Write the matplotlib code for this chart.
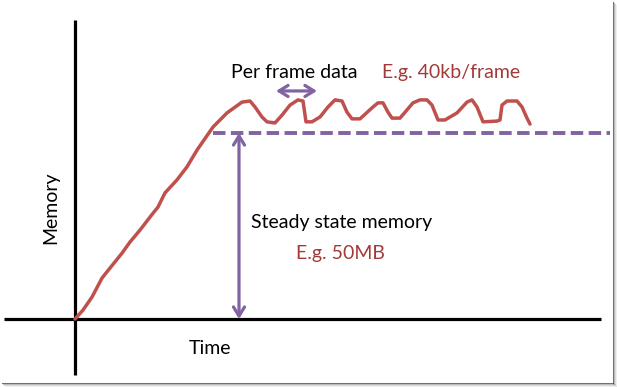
import matplotlib
matplotlib.use('Agg')
from matplotlib import pyplot as plt
from matplotlib.lines import Line2D

# Memory growth over time (time in arbitrary units, memory in MB)
time = [0, 0.8, 1.7, 2.7, 3.5, 4.7, 5.5, 6.5, 7.5, 8.3, 9.0, 10.2, 11.2, 12.2,
        13.8, 15.2, 16.7, 17.5, 18.0, 18.7, 19.2, 20.0, 20.7, 21.5, 22.3, 22.8,
        23.1, 23.7, 24.5, 25.3, 26.0, 26.7, 27.2, 27.7, 28.5, 29.8, 30.3, 30.8,
        31.3, 31.7, 32.5, 33.8, 34.5, 35.2, 35.7, 36.3, 37.0, 38.2, 39.2, 39.7,
        40.2, 40.8, 42.2, 42.5, 42.7, 43.2, 44.2, 44.7, 45.2, 45.5]
memory = [0, 2.4, 5.9, 11.0, 13.7, 17.7, 20.7, 23.9, 27.4, 30.1, 33.9, 37.4, 40.9, 45.4,
          51.6, 55.4, 58.3, 58.6, 57.0, 54.3, 53.0, 52.7, 54.8, 57.5, 58.9, 58.6,
          53.0, 53.0, 54.3, 57.0, 58.9, 58.6, 55.6, 53.8, 53.8, 57.0, 58.1, 58.1,
          55.6, 54.0, 54.0, 58.1, 58.9, 58.9, 57.5, 53.5, 53.5, 55.4, 58.3, 58.9,
          57.0, 53.0, 53.2, 53.5, 57.5, 58.6, 58.6, 57.0, 54.0, 52.4]

steady_state = 50          # MB
steady_start = 13.8
steady_end = 53.5
frame_span = [20.1, 24.2]  # one frame's worth of time
steady_arrow_t = 16.4

red = '#C0504D'
dark_red = '#A23B38'
purple = '#8064A2'
font = 'Lato'
fs = 14

fig = plt.figure(figsize=(6.17, 3.87), dpi=100)
ax = fig.add_axes([0, 0, 1, 1])
ax.set_xlim(-7.5, 54.2)
ax.set_ylim(-18.28, 85.75)
ax.axis('off')

# Axes drawn as thick black lines
ax.plot([0, 0], [-15.1, 80.4], color='black', lw=2.3, solid_capstyle='butt')
ax.plot([-7.1, 52.6], [0, 0], color='black', lw=2.3, solid_capstyle='butt')

# Steady state level
ax.plot([steady_start, steady_end], [steady_state, steady_state], color=purple,
        lw=2.8, dashes=(3.2, 1.4), zorder=2)

# Memory curve
ax.plot(time, memory, color=red, lw=2.5, solid_joinstyle='round',
        solid_capstyle='round', zorder=3)

# Arrows
arrow = dict(arrowstyle='<->,head_length=0.65,head_width=0.4',
             color=purple, lw=2.3, shrinkA=0, shrinkB=0)
ax.annotate('', xy=(steady_arrow_t, 0), xytext=(steady_arrow_t, steady_state),
            arrowprops=arrow)
ax.annotate('', xy=(frame_span[0], 61.3), xytext=(frame_span[1], 61.3),
            arrowprops=arrow)

# Labels
ax.text(21.9, 66.3, 'Per frame data', fontsize=fs, family=font, ha='center', va='center')
ax.text(37.6, 66.3, 'E.g. 40kb/frame', fontsize=fs, family=font, color=dark_red,
        ha='center', va='center')
ax.text(17.6, 26.0, 'Steady state memory', fontsize=fs, family=font, ha='left', va='center')
ax.text(26.5, 17.5, 'E.g. 50MB', fontsize=fs, family=font, color=dark_red,
        ha='center', va='center')
ax.text(-2.4, 29.8, 'Memory', fontsize=fs, family=font, rotation=90, ha='center', va='center')
ax.text(13.5, -7.8, 'Time', fontsize=fs, family=font, ha='center', va='center')

# Screenshot frame with drop shadow on right and bottom
W, H = 617.0, 387.0
for i, a in enumerate([0.75, 0.35, 0.18, 0.08]):
    x = (612.5 + i) / W
    y = 1 - (382.5 + i) / H
    fig.add_artist(Line2D([x, x], [1 - (2 + i) / H, y], color='#444444', alpha=a, lw=0.75))
    fig.add_artist(Line2D([(2 + i) / W, x], [y, y], color='#444444', alpha=a, lw=0.75))

fig.savefig('out.png', dpi=100)
